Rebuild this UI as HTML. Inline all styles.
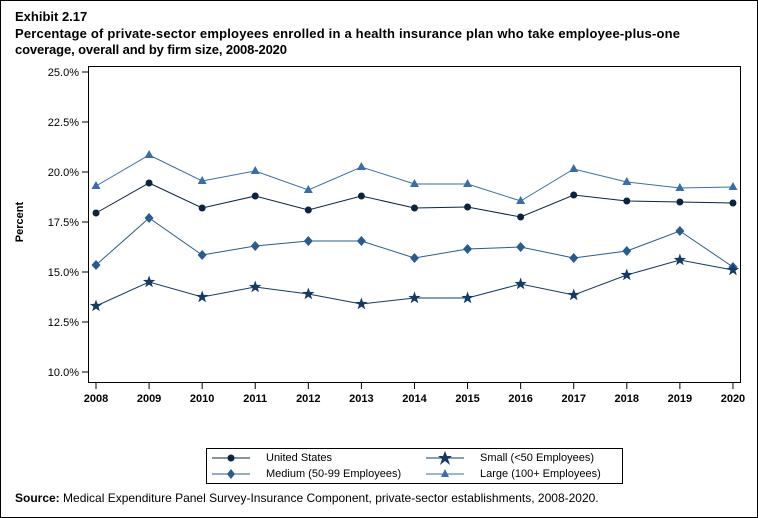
<!DOCTYPE html>
<html><head><meta charset="utf-8"><style>
html,body{margin:0;padding:0;background:#fff}
svg{display:block;font-family:"Liberation Sans",sans-serif}
</style></head><body>
<svg width="758" height="518" viewBox="0 0 758 518" xmlns="http://www.w3.org/2000/svg">
<rect x="0.5" y="0.5" width="757" height="517" fill="#fff" stroke="#000"/>
<text x="15" y="21" font-size="13" font-weight="bold">Exhibit 2.17</text>
<text x="15" y="38" font-size="13" font-weight="bold" textLength="665">Percentage of private-sector employees enrolled in a health insurance plan who take employee-plus-one</text>
<text x="15" y="54" font-size="13" font-weight="bold" textLength="272">coverage, overall and by firm size, 2008-2020</text>
<rect x="88.5" y="66.5" width="652" height="316" fill="none" stroke="#000"/>
<g font-size="11" text-anchor="end">
<text x="79" y="76">25.0%</text><text x="79" y="126">22.5%</text><text x="79" y="176">20.0%</text>
<text x="79" y="226">17.5%</text><text x="79" y="276">15.0%</text><text x="79" y="326">12.5%</text><text x="79" y="376">10.0%</text>
</g>
<g stroke="#000"><line x1="82" x2="88" y1="72" y2="72"/><line x1="82" x2="88" y1="122" y2="122"/><line x1="82" x2="88" y1="172" y2="172"/><line x1="82" x2="88" y1="222" y2="222"/><line x1="82" x2="88" y1="272" y2="272"/><line x1="82" x2="88" y1="322" y2="322"/><line x1="82" x2="88" y1="372" y2="372"/></g>
<text x="23" y="222" font-size="11" font-weight="bold" transform="rotate(-90 23 222)" text-anchor="middle">Percent</text>
<g id="xt" font-size="11" font-weight="bold" text-anchor="middle"></g>
<g id="series"></g>
<rect x="206.5" y="448.5" width="416" height="35" fill="none" stroke="#000"/>
<g font-size="11">
<line x1="212" x2="250" y1="458" y2="458" stroke="#0d2440"/><circle cx="231" cy="458" r="3.5" fill="#0d2440"/>
<text x="266" y="461">United States</text>
<line x1="426" x2="464" y1="458" y2="458" stroke="#163a63"/><polygon points="445,451 447,456 452,456 448,459 450,465 445,461 440,465 442,459 438,456 443,456" fill="#163a63"/>
<text x="480" y="461">Small (&lt;50 Employees)</text>
<line x1="212" x2="250" y1="474" y2="474" stroke="#2b5b8a"/><polygon points="231,469 235,474 231,479 227,474" fill="#2b5b8a"/>
<text x="266" y="477">Medium (50-99 Employees)</text>
<line x1="426" x2="464" y1="474" y2="474" stroke="#3a6ea5"/><polygon points="445,469 449,477 441,477" fill="#3a6ea5"/>
<text x="480" y="477">Large (100+ Employees)</text>
</g>
<text x="15" y="502" font-size="12"><tspan font-weight="bold">Source:</tspan> Medical Expenditure Panel Survey-Insurance Component, private-sector establishments, 2008-2020.</text>
</svg>
<script>
var ns="http://www.w3.org/2000/svg";
function X(i){return 96+i*53.08;}
var xt=document.getElementById('xt');
for(var i=0;i<13;i++){var x=X(i);
 var t=document.createElementNS(ns,'text');t.setAttribute('x',x);t.setAttribute('y',402);t.textContent=2008+i;xt.appendChild(t);
 var l=document.createElementNS(ns,'line');l.setAttribute('x1',x);l.setAttribute('x2',x);l.setAttribute('y1',383);l.setAttribute('y2',389);l.setAttribute('stroke','#000');xt.appendChild(l);}
var S=[
 {c:"#3a6ea5",m:"tri",y:[186,155,181,171,190,167,184,184,201,169,182,188,187]},
 {c:"#0d2440",m:"cir",y:[213,183,208,196,210,196,208,207,217,195,201,202,203]},
 {c:"#2b5b8a",m:"dia",y:[265,218,255,246,241,241,258,249,247,258,251,231,267]},
 {c:"#163a63",m:"star",y:[306,282,297,287,294,304,298,298,284,295,275,260,270]}];
var g=document.getElementById('series');
S.forEach(function(s){
 var p=document.createElementNS(ns,'polyline');
 p.setAttribute('points',s.y.map(function(y,i){return X(i)+','+y}).join(' '));
 p.setAttribute('fill','none');p.setAttribute('stroke',s.c);p.setAttribute('stroke-width','1');g.appendChild(p);
 s.y.forEach(function(y,i){var x=X(i),e;
  if(s.m=='cir'){e=document.createElementNS(ns,'circle');e.setAttribute('cx',x);e.setAttribute('cy',y);e.setAttribute('r',3.5);}
  else{e=document.createElementNS(ns,'polygon');var pts;
   if(s.m=='tri')pts=[[x,y-5],[x+4.5,y+3],[x-4.5,y+3]];
   else if(s.m=='dia')pts=[[x,y-5],[x+4.5,y],[x,y+5],[x-4.5,y]];
   else{pts=[];for(var k=0;k<10;k++){var r=k%2?2.6:6.5,a=-Math.PI/2+k*Math.PI/5;pts.push([x+r*Math.cos(a),y+r*Math.sin(a)]);}}
   e.setAttribute('points',pts.map(function(q){return q.join(',')}).join(' '));}
  e.setAttribute('fill',s.c);g.appendChild(e);});
});
</script>
</body></html>
